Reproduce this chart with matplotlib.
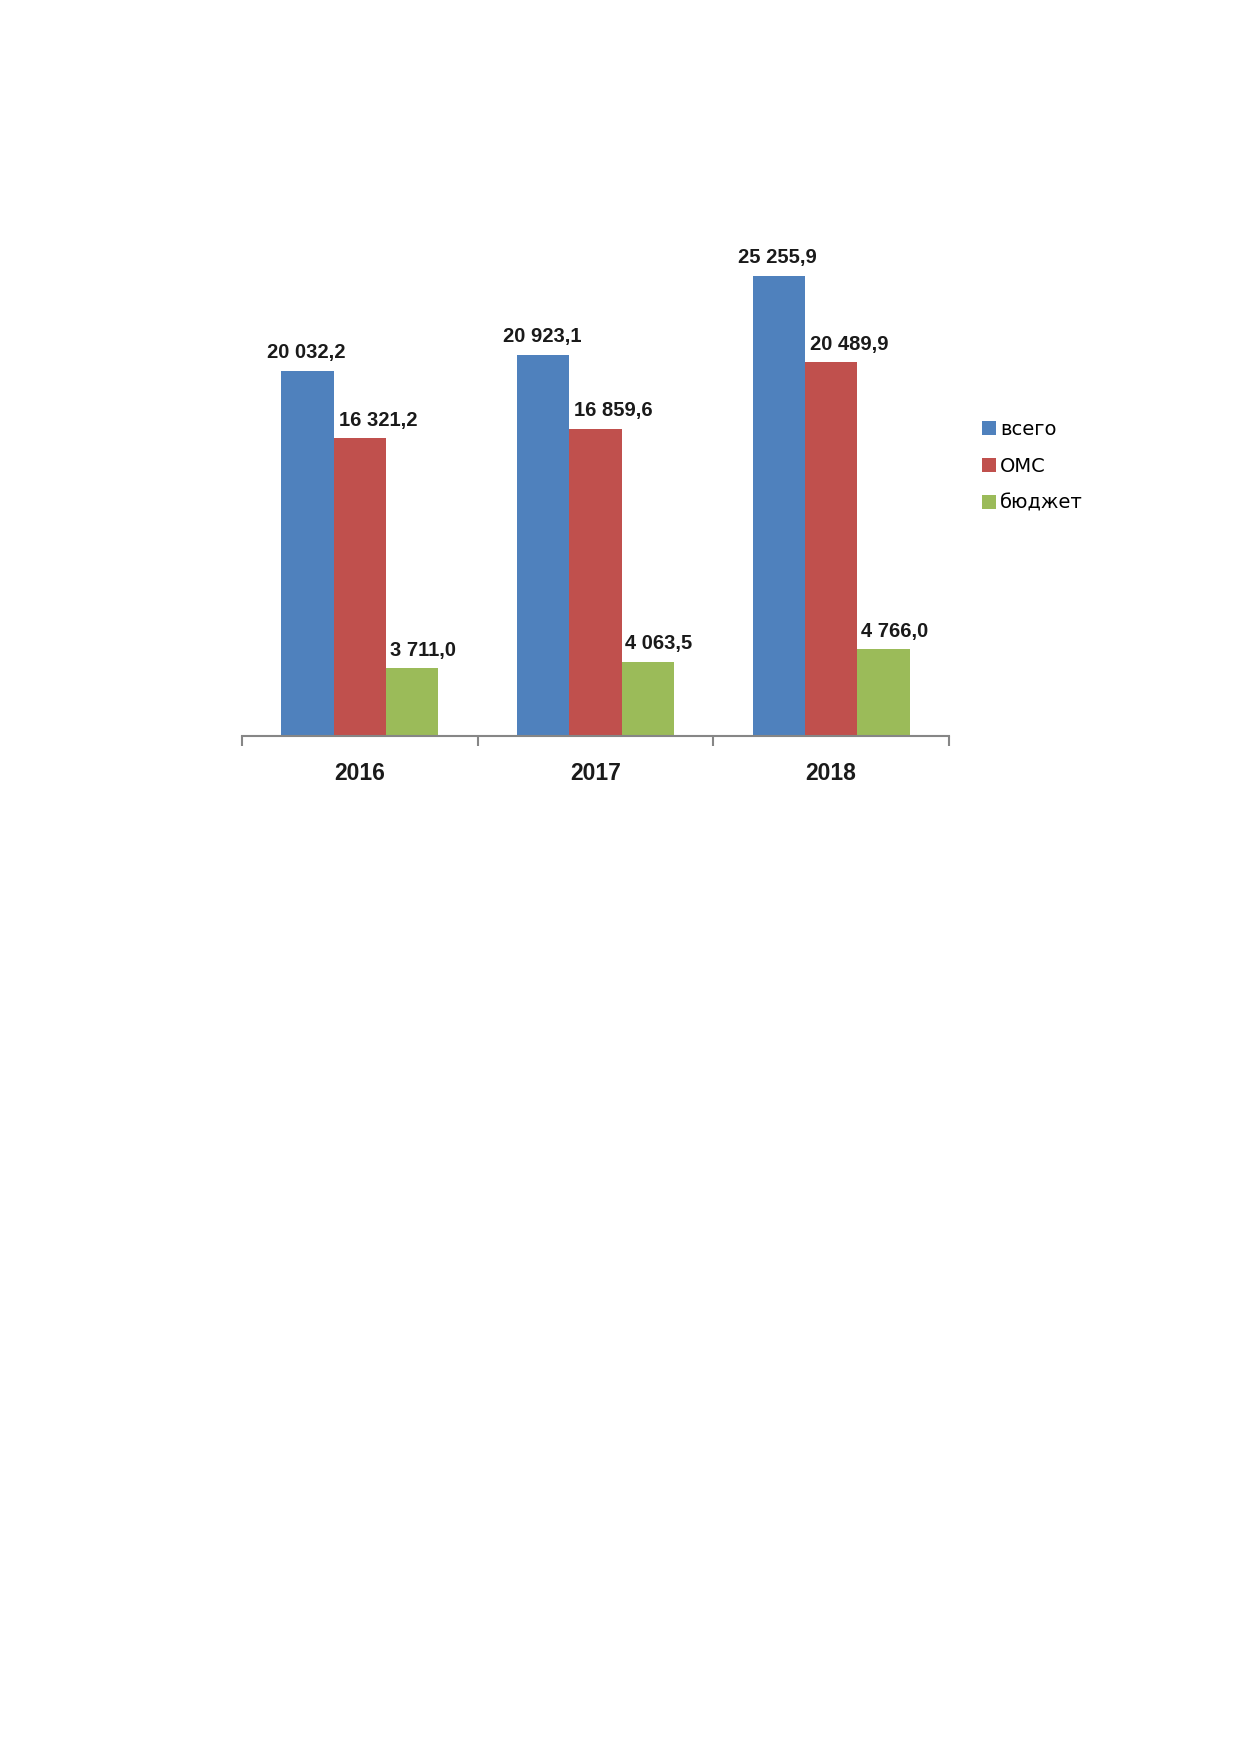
import numpy as np
import matplotlib.pyplot as plt
from matplotlib.patches import Patch

plt.rcParams['font.family'] = ['Liberation Sans', 'DejaVu Sans']

years = ["2016", "2017", "2018"]
series_names = ["всего", "ОМС", "бюджет"]
vsego = [20032.2, 20923.1, 25255.9]
oms = [16321.2, 16859.6, 20489.9]
budget = [3711.0, 4063.5, 4766.0]
label_texts = [
    ["20 032,2", "20 923,1", "25 255,9"],
    ["16 321,2", "16 859,6", "20 489,9"],
    ["3 711,0", "4 063,5", "4 766,0"],
]

colors = ["#4F81BD", "#C0504D", "#9BBB59"]
label_dx = [-1, 18, 11]  # pixels, as placed in the original

W, H, DPI = 1239, 1752, 100
fig = plt.figure(figsize=(W / DPI, H / DPI), dpi=DPI)
ax = fig.add_axes([242 / W, 1 - 736 / H, 707 / W, 547 / H])

x = np.arange(len(years))
bw = 1 / 4.5
for i, vals in enumerate([vsego, oms, budget]):
    pos = x + (i - 1) * bw
    ax.bar(pos, vals, width=bw, color=colors[i], label=series_names[i], zorder=2)
    for p, v, t in zip(pos, vals, label_texts[i]):
        ax.annotate(t, (p, v), xytext=(label_dx[i], 18), textcoords="offset pixels",
                    ha="center", va="center", fontsize=14.5, fontweight="bold",
                    color="#1a1a1a")

ax.set_xlim(-0.5, 2.5)
ax.set_ylim(0, 30000)
for s in ["top", "right", "left"]:
    ax.spines[s].set_visible(False)
ax.spines["bottom"].set_color("#868686")
ax.spines["bottom"].set_linewidth(1.5)
ax.set_yticks([])

ax.set_xticks([-0.5, 0.5, 1.5, 2.5])
ax.set_xticklabels([])
ax.tick_params(axis="x", which="major", direction="out", length=7, width=1.5, color="#868686")
ax.set_xticks(x, minor=True)
ax.set_xticklabels(years, minor=True, fontsize=16.5, fontweight="bold", color="#1a1a1a")
ax.tick_params(axis="x", which="minor", length=0, pad=19)

handles = [Patch(facecolor=c, edgecolor="none") for c in colors]
fig.legend(handles, series_names, loc="upper left", bbox_to_anchor=(982 / W, 1 - 420 / H),
           frameon=False, prop={"family": "DejaVu Sans", "size": 14},
           handlelength=0.72, handleheight=0.72, handletextpad=0.2,
           labelspacing=0.92, borderaxespad=0, borderpad=0)

fig.savefig("out.png", dpi=DPI, facecolor="white")
